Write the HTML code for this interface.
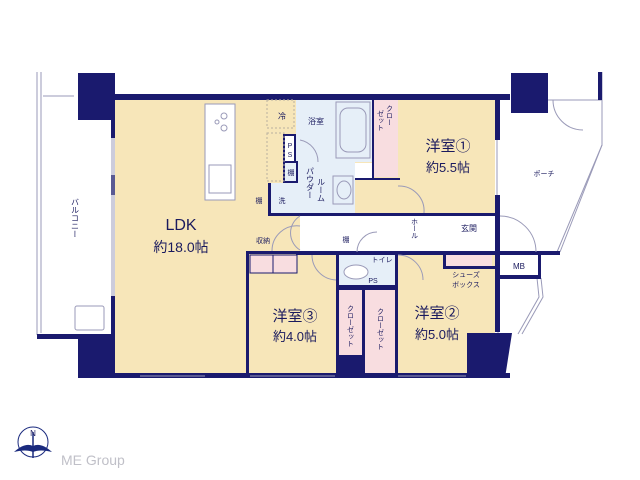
<!DOCTYPE html>
<html><head><meta charset="utf-8"><style>
html,body{margin:0;padding:0;background:#fff;}
svg{display:block}
text{font-family:"Liberation Sans","Noto Sans CJK JP",sans-serif;fill:#1a1a5e}
</style></head><body>
<svg width="640" height="480" viewBox="0 0 640 480" xmlns="http://www.w3.org/2000/svg">
<!-- balcony -->
<g stroke="#9a9ab8" stroke-width="1" fill="none">
<line x1="37" y1="72" x2="37" y2="335"/><line x1="41" y1="72" x2="41" y2="333"/>
<line x1="43" y1="96" x2="74" y2="96"/>
<rect x="75" y="306" width="29" height="24" rx="2"/>
</g>
<rect x="37" y="334" width="78" height="5" fill="#1a1a6e"/>
<!-- floors -->
<rect x="115" y="100" width="380" height="277" fill="#f7e6b9"/>
<rect x="300" y="215" width="195" height="37" fill="#fff"/>
<rect x="443" y="215" width="52" height="37" fill="#fff"/>
<!-- wet areas light blue -->
<rect x="296" y="100" width="76" height="62" fill="#e6eff8"/>
<rect x="297" y="162" width="58" height="53" fill="#e6eff8"/>
<rect x="268" y="183" width="29" height="32" fill="#e6eff8"/>
<rect x="337" y="253" width="60" height="32" fill="#e6eff8"/>
<!-- pink closets -->
<rect x="373" y="100" width="25" height="77" fill="#f8dde0"/>
<rect x="250" y="255" width="47" height="18" fill="#f8dde0" stroke="#1a1a6e" stroke-width="1"/>
<line x1="273" y1="255" x2="273" y2="273" stroke="#1a1a6e"/>
<rect x="338" y="290" width="24" height="66" fill="#f8dde0"/>
<rect x="365" y="290" width="30" height="85" fill="#f8dde0"/>
<rect x="445" y="253" width="47" height="15" fill="#f8dde0"/>
<!-- white bits -->
<rect x="355" y="163" width="17" height="15" fill="#fff"/>
<rect x="284" y="135" width="11" height="27" fill="#fff" stroke="#1a1a6e" stroke-width="2"/>
<rect x="284" y="162" width="13" height="20" fill="#e6eff8" stroke="#1a1a6e" stroke-width="2"/>
<!-- porch outline -->
<g stroke="#9a9ab8" stroke-width="1" fill="none">
<polyline points="548,100 602,100 602,145 557,252"/>
<polyline points="602,72 602,145 560,252"/>
<polyline points="541,278 543,297 522,334"/>
<polyline points="537,278 539,297 518,334"/>
<line x1="498" y1="255" x2="498" y2="334"/>
</g>
<!-- walls -->
<g fill="#1a1a6e">
<rect x="78" y="73" width="37" height="47"/>
<rect x="78" y="338" width="37" height="40"/>
<rect x="114" y="94" width="396" height="6"/>
<rect x="511" y="73" width="37" height="40"/>
<rect x="598" y="72" width="4" height="28"/>
<rect x="111" y="100" width="4" height="38"/>
<rect x="111" y="175" width="4" height="20"/>
<rect x="111" y="296" width="4" height="42"/>
<rect x="78" y="373" width="432" height="5"/>
<rect x="246" y="251" width="3" height="124"/>
<rect x="246" y="251" width="55" height="3"/>
<rect x="296" y="251" width="264" height="4"/>
<rect x="495" y="100" width="5" height="40"/>
<rect x="495" y="195" width="5" height="60"/>
<rect x="495" y="252" width="5" height="80"/>
<rect x="300" y="213" width="200" height="3"/>
<rect x="268" y="213" width="32" height="3"/>
<rect x="268" y="183" width="3" height="32"/>
<rect x="372" y="100" width="2" height="78"/>
<rect x="355" y="178" width="45" height="2"/>
<rect x="336" y="252" width="3" height="123"/>
<rect x="395" y="252" width="3" height="123"/>
<rect x="362" y="290" width="3" height="85"/>
<rect x="336" y="285" width="62" height="5"/>
<rect x="443" y="252" width="3" height="16"/>
<rect x="443" y="266" width="52" height="3"/>
<rect x="500" y="252" width="41" height="3"/>
<rect x="500" y="275" width="41" height="4"/>
<rect x="538" y="252" width="3" height="27"/>
<rect x="336" y="355" width="28" height="20"/>
<polygon points="467,333 512,333 505,378 467,378"/>
</g>
<!-- windows -->
<g stroke="#9a9ab8" stroke-width="1" fill="none">
<line x1="112" y1="138" x2="112" y2="296"/><line x1="114" y1="138" x2="114" y2="296"/>
<line x1="140" y1="376" x2="205" y2="376"/><line x1="250" y1="376" x2="335" y2="376"/><line x1="398" y1="376" x2="466" y2="376"/>
<line x1="497" y1="140" x2="497" y2="195"/>
</g>
<!-- kitchen -->
<rect x="205" y="104" width="30" height="96" fill="#fff" stroke="#9a9ab8"/>
<circle cx="224" cy="116" r="3" fill="none" stroke="#9a9ab8"/><circle cx="224" cy="128" r="3" fill="none" stroke="#9a9ab8"/><circle cx="217" cy="122" r="2" fill="none" stroke="#9a9ab8"/>
<rect x="209" y="165" width="22" height="28" fill="none" stroke="#9a9ab8"/>
<rect x="267" y="100" width="27" height="28" fill="none" stroke="#b8b0a0" stroke-dasharray="2,2"/>
<rect x="267" y="133" width="17" height="48" fill="none" stroke="#b8b0a0" stroke-dasharray="2,2"/>
<!-- tub/sink -->
<rect x="336" y="102" width="34" height="56" fill="none" stroke="#9a9ab8"/>
<rect x="340" y="108" width="26" height="44" rx="8" fill="none" stroke="#9a9ab8"/>
<rect x="333" y="176" width="20" height="28" fill="none" stroke="#9a9ab8"/>
<ellipse cx="344" cy="190" rx="7" ry="9" fill="none" stroke="#9a9ab8"/>
<ellipse cx="356" cy="272" rx="12" ry="7" fill="#fff" stroke="#9a9ab8"/>
<!-- doors -->
<g stroke="#9a9ab8" fill="none">
<path d="M300 140 A22 22 0 0 1 318 162"/><path d="M300 216 A20 20 0 0 0 300 250"/>
<path d="M272 251 A25 25 0 0 1 300 226"/><path d="M312 255 A25 25 0 0 0 336 280"/>
<path d="M357 252 A20 20 0 0 1 377 232"/><path d="M398 255 A25 25 0 0 1 423 280"/>
<path d="M398 186 A25 25 0 0 1 424 213"/><path d="M500 216 A36 36 0 0 1 536 252"/>
<path d="M553 100 A30 30 0 0 0 583 130"/>
</g>
<!-- labels -->
<text x="181" y="230" font-size="16" text-anchor="middle">LDK</text>
<text x="181" y="252" font-size="14" text-anchor="middle">約18.0帖</text>
<text x="448" y="151" font-size="15" text-anchor="middle" style='font-family:"Noto Sans CJK JP",sans-serif'>洋室①</text>
<text x="448" y="172" font-size="13" text-anchor="middle">約5.5帖</text>
<text x="437" y="318" font-size="15" text-anchor="middle" style='font-family:"Noto Sans CJK JP",sans-serif'>洋室②</text>
<text x="437" y="339" font-size="13" text-anchor="middle">約5.0帖</text>
<text x="295" y="321" font-size="15" text-anchor="middle" style='font-family:"Noto Sans CJK JP",sans-serif'>洋室③</text>
<text x="295" y="341" font-size="13" text-anchor="middle">約4.0帖</text>
<text x="316" y="124" font-size="8" text-anchor="middle">浴室</text>
<text x="282" y="119" font-size="8" text-anchor="middle">冷</text>
<text x="290" y="148" font-size="7" text-anchor="middle">P</text><text x="290" y="157" font-size="7" text-anchor="middle">S</text>
<text x="291" y="175" font-size="7" text-anchor="middle">棚</text>
<text x="259" y="203" font-size="7" text-anchor="middle">棚</text>
<text x="282" y="203" font-size="7" text-anchor="middle">洗</text>
<text x="263" y="243" font-size="7" text-anchor="middle">収納</text>
<text x="346" y="242" font-size="7" text-anchor="middle">棚</text>
<text x="469" y="231" font-size="8" text-anchor="middle">玄関</text>
<text x="519" y="269" font-size="8" text-anchor="middle">MB</text>
<text x="544" y="176" font-size="7" text-anchor="middle">ポーチ</text>
<text x="382" y="262" font-size="7" text-anchor="middle">トイレ</text>
<text x="373" y="283" font-size="7" text-anchor="middle">PS</text>
<text x="466" y="277" font-size="7" text-anchor="middle">シューズ</text>
<text x="466" y="287" font-size="7" text-anchor="middle">ボックス</text>
<text font-size="8" writing-mode="tb" x="310" y="167">パウダー</text>
<text font-size="8" writing-mode="tb" x="321" y="178">ルーム</text>
<text font-size="7" writing-mode="tb" x="414" y="218">ホール</text>
<text font-size="7" writing-mode="tb" x="389" y="105">クロー</text>
<text font-size="7" writing-mode="tb" x="380" y="110">ゼット</text>
<text font-size="7" writing-mode="tb" x="350" y="305">クローゼット</text>
<text font-size="7" writing-mode="tb" x="380" y="308">クローゼット</text>
<text font-size="8" writing-mode="tb" x="75" y="198">バルコニー</text>
<!-- logo -->
<circle cx="33" cy="442" r="15" fill="none" stroke="#1a2a7e" stroke-width="1"/>
<path d="M14 452 Q25 442 33 446 Q41 442 52 452 Q40 449 33 452 Q26 449 14 452Z" fill="#1a2a7e"/>
<line x1="33" y1="432" x2="33" y2="458" stroke="#1a2a7e" stroke-width="1.5"/>
<text x="33" y="436" font-size="8" text-anchor="middle" fill="#1a2a7e">N</text>
<text x="61" y="465" font-size="14" style="fill:#c0c0c8">ME Group</text>
</svg>
</body></html>
